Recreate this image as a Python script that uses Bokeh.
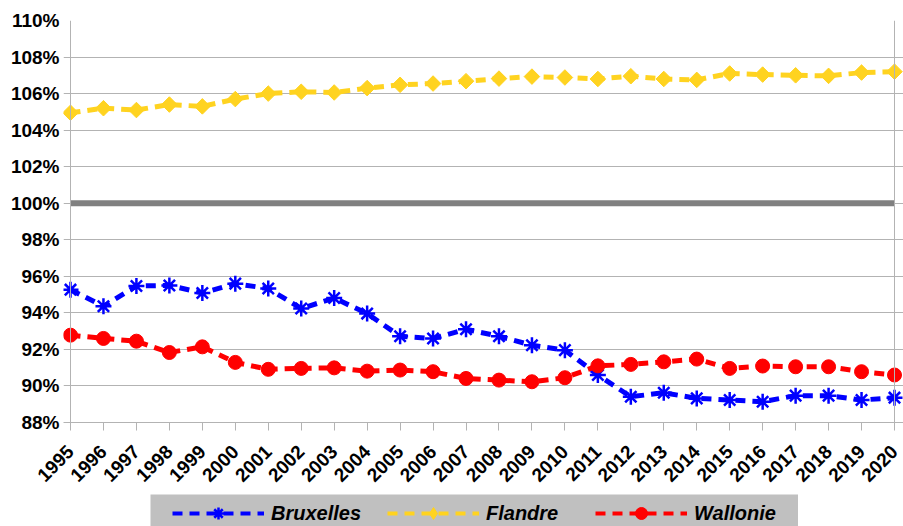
import math
from bokeh.plotting import figure
from bokeh.models import Range1d, FixedTicker, Span, Legend, LegendItem, Spacer
from bokeh.layouts import column, row
from bokeh.embed import file_html
from bokeh.resources import INLINE

years = list(range(1995, 2021))
bruxelles = [95.27, 94.36, 95.47, 95.50, 95.09, 95.60, 95.33, 94.24, 94.81, 93.96,
             92.72, 92.60, 93.10, 92.72, 92.23, 91.96, 90.60, 89.41, 89.63, 89.32,
             89.23, 89.14, 89.47, 89.47, 89.23, 89.36]
flandre = [104.95, 105.20, 105.10, 105.40, 105.30, 105.70, 106.00, 106.10, 106.06, 106.30,
           106.48, 106.55, 106.68, 106.82, 106.93, 106.88, 106.80, 106.95, 106.80, 106.75,
           107.10, 107.04, 107.00, 106.97, 107.15, 107.20]
wallonie = [92.78, 92.60, 92.45, 91.83, 92.14, 91.29, 90.91, 90.96, 90.99, 90.81,
            90.87, 90.78, 90.41, 90.32, 90.23, 90.45, 91.10, 91.18, 91.32, 91.47,
            90.96, 91.09, 91.05, 91.05, 90.78, 90.60]
series_names = ["Bruxelles", "Flandre", "Wallonie"]
y_ticks = [88, 90, 92, 94, 96, 98, 100, 102, 104, 106, 108, 110]
y_tick_labels = ["88%", "90%", "92%", "94%", "96%", "98%", "100%", "102%", "104%", "106%", "108%", "110%"]
x_tick_labels = [str(y) for y in years]
reference_level = 100

BLUE = "#0000ff"
YELLOW = "#ffd320"
RED = "#ff0000"
GRID = "#b3b3b3"
FONT = "Liberation Sans"

# frame: x 63..903 px, year 1995 at 70 px, 2020 at 894 px
px_per_year = (894 - 70) / (years[-1] - years[0])
x_lo = years[0] - 7 / px_per_year
x_hi = years[-1] + 9 / px_per_year

p = figure(width=903, height=494, output_backend="svg", toolbar_location=None,
           x_range=Range1d(x_lo, x_hi), y_range=Range1d(y_ticks[0], y_ticks[-1]),
           min_border_left=63, min_border_right=0, min_border_top=20, min_border_bottom=72)
p.background_fill_color = "white"
p.border_fill_color = "white"
p.outline_line_color = None

p.xgrid.visible = False
p.ygrid.ticker = FixedTicker(ticks=y_ticks)
p.ygrid.grid_line_color = GRID
p.ygrid.grid_line_width = 1

p.yaxis.ticker = FixedTicker(ticks=y_ticks)
p.yaxis.major_label_overrides = {t: l for t, l in zip(y_ticks, y_tick_labels)}
p.xaxis.ticker = FixedTicker(ticks=years)
p.xaxis.major_label_overrides = {t: l for t, l in zip(years, x_tick_labels)}
p.xaxis.major_label_orientation = math.pi / 4
for ax in (p.xaxis, p.yaxis):
    ax.axis_line_color = GRID
    ax.major_tick_line_color = GRID
    ax.minor_tick_line_color = None
    ax.major_tick_in = 0
    ax.major_label_text_font = FONT
    ax.major_label_text_font_style = "bold"
    ax.major_label_text_color = "black"
p.yaxis.axis_line_color = None
p.yaxis.major_tick_out = 0
p.xaxis.major_tick_out = 8
p.yaxis.major_label_text_font_size = "19px"
p.xaxis.major_label_text_font_size = "19px"
p.yaxis.major_label_standoff = 4
p.xaxis.major_label_standoff = 18

# vertical frame lines at first and last year
p.add_layout(Span(location=years[0], dimension="height", line_color=GRID, line_width=1))
p.add_layout(Span(location=years[-1], dimension="height", line_color=GRID, line_width=1))

# thick 100% reference line
p.line([years[0], years[-1]], [reference_level, reference_level], line_color="#808080", line_width=6)

dash = "10 7"
def add_series(plot, vals, color, marker, msize, angle=0.0, mline=1.0, lw=5):
    l = plot.line(years, vals, line_color=color, line_width=lw, line_dash=dash)
    if marker == "asterisk":
        m = plot.scatter(years, vals, marker=marker, size=msize, line_color=color, line_width=mline)
    else:
        m = plot.scatter(years, vals, marker=marker, size=msize, angle=angle,
                         fill_color=color, line_color=color)
    return [l, m]

add_series(p, bruxelles, BLUE, "asterisk", 16, mline=2.5)
add_series(p, flandre, YELLOW, "square", 11, angle=math.pi / 4)
add_series(p, wallonie, RED, "circle", 14)

# legend strip (grey box)
q = figure(width=648, height=32, output_backend="svg", toolbar_location=None,
           x_range=Range1d(0, 1), y_range=Range1d(0, 1),
           x_axis_type=None, y_axis_type=None,
           min_border_left=0, min_border_right=0, min_border_top=0, min_border_bottom=0)
q.grid.visible = False
q.outline_line_color = None
q.background_fill_color = "#c0c0c0"
q.border_fill_color = "#c0c0c0"

leg_rends = [
    add_series(q, bruxelles, BLUE, "asterisk", 16, mline=2.5, lw=4),
    add_series(q, flandre, YELLOW, "diamond", 11, lw=4),
    add_series(q, wallonie, RED, "circle", 14, lw=4),
]
xlocs = [22, 237, 445]
for name, rends, xl in zip(series_names, leg_rends, xlocs):
    leg = Legend(items=[LegendItem(label=name, renderers=rends)], location=(xl, -2),
                 orientation="horizontal", padding=0, margin=0, spacing=0,
                 glyph_width=92, glyph_height=30, label_height=30, label_standoff=7,
                 background_fill_alpha=0, border_line_alpha=0,
                 label_text_font=FONT, label_text_font_style="bold italic",
                 label_text_font_size="20px", label_text_color="black")
    q.add_layout(leg)

layout = column(p, row(Spacer(width=150, height=32), q, spacing=0), spacing=0)

open("out.html", "w").write(file_html(layout, INLINE))
